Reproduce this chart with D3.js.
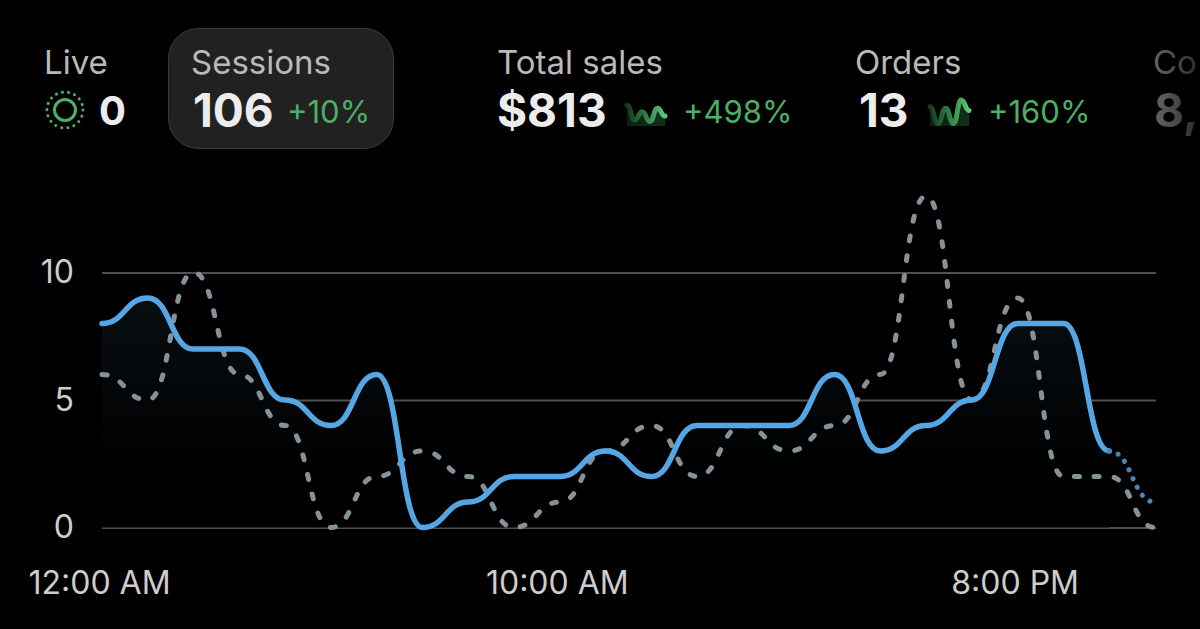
<!DOCTYPE html>
<html>
<head>
<meta charset="utf-8">
<script src="https://cdn.jsdelivr.net/npm/d3@7"></script>
<style>
	html, body { margin: 0; background: #000; overflow: hidden; }
	text { font-family: Inter, "Noto Sans", sans-serif; }
</style>
</head>
<body>
<div id="chart"></div>
<script>
const hours = d3.range(24);
const currentSessions = [8, 9, 7, 7, 5, 4, 6, 0, 1, 2, 2, 3, 2, 4, 4, 4, 6, 3, 4, 5, 8, 8, 3, 1];
const previousSessions = [6, 5, 10, 6, 4, 0, 2, 3, 2, 0, 1, 3, 4, 2, 4, 3, 4, 6, 13, 5, 9, 2, 2, 0];
const yTicks = [0, 5, 10];
const xTicks = [0, 10, 20];
const xTickLabels = ["12:00 AM", "10:00 AM", "8:00 PM"];
const salesSpark = [8, 2.3, 5.5, 1.7, 6.8, 3.8];
const ordersSpark = [7.4, 1, 6.8, 1, 10, 6];

let canvasWidth = 1200;
let canvasHeight = 629;

let svg = d3.select("#chart").append("svg")
	.attr("width", canvasWidth)
	.attr("height", canvasHeight)
	.style("display", "block");

let defs = svg.append("defs");

let areaGrad = defs.append("linearGradient").attr("id", "area-grad")
	.attr("gradientUnits", "userSpaceOnUse")
	.attr("x1", 0).attr("x2", 0).attr("y1", 300).attr("y2", 470);
areaGrad.append("stop").attr("offset", 0).attr("stop-color", "#080e11");
areaGrad.append("stop").attr("offset", 1).attr("stop-color", "#000");

let sparkArea = defs.append("linearGradient").attr("id", "spark-area")
	.attr("x1", 0).attr("x2", 1).attr("y1", 0).attr("y2", 0);
sparkArea.append("stop").attr("offset", 0).attr("stop-color", "#0a1f10");
sparkArea.append("stop").attr("offset", 1).attr("stop-color", "#11301a");

let sparkLine = defs.append("linearGradient").attr("id", "spark-line")
	.attr("x1", 0).attr("x2", 1).attr("y1", 0).attr("y2", 0);
sparkLine.append("stop").attr("offset", 0).attr("stop-color", "#143a1f");
sparkLine.append("stop").attr("offset", 0.5).attr("stop-color", "#2f8046");
sparkLine.append("stop").attr("offset", 1).attr("stop-color", "#5dc679");

let fadeGrad = defs.append("linearGradient").attr("id", "fade-grad")
	.attr("gradientUnits", "userSpaceOnUse")
	.attr("x1", 1150).attr("x2", 1200).attr("y1", 0).attr("y2", 0);
fadeGrad.append("stop").attr("offset", 0).attr("stop-color", "#6a6a6a");
fadeGrad.append("stop").attr("offset", 1).attr("stop-color", "#2a2a2a");

// chart
let x = d3.scaleLinear().domain([0, 23]).range([102, 1155]);
let y = d3.scaleLinear().domain([0, 10]).range([527.5, 272.5]);

let chart = svg.append("g").attr("id", "plot");

chart.append("g")
	.attr("class", "y axis")
	.attr("transform", "translate(102,0)")
	.call(d3.axisLeft(y).tickValues(yTicks).tickFormat(d3.format("d")).tickSize(0).tickPadding(28))
	.call((g) => g.select(".domain").remove())
	.call((g) => g.selectAll(".tick line")
		.attr("x2", 1054)
		.attr("stroke", "#505050")
		.attr("stroke-width", 2))
	.call((g) => g.selectAll(".tick text")
		.attr("fill", "#cdcdcd")
		.style("font-size", "32px"));

chart.append("g")
	.attr("class", "x axis")
	.attr("transform", "translate(-3,527)")
	.call(d3.axisBottom(x).tickValues(xTicks).tickFormat((d, i) => xTickLabels[i]).tickSize(0).tickPadding(44))
	.call((g) => g.select(".domain").remove())
	.call((g) => g.selectAll(".tick text")
		.attr("fill", "#cdcdcd")
		.style("font-size", "32px"));

let curve = d3.curveBumpX;

let area = d3.area()
	.x((d) => x(d))
	.y0(y(0))
	.y1((d) => y(currentSessions[d]))
	.curve(curve);

let line = (series) => d3.line()
	.x((d) => x(d))
	.y((d) => y(series[d]))
	.curve(curve);

chart.append("path")
	.attr("d", area(hours.slice(0, 23)))
	.attr("fill", "url(#area-grad)");

chart.append("path")
	.attr("d", line(previousSessions)(hours))
	.attr("fill", "none")
	.attr("stroke", "#84929b")
	.attr("stroke-width", 5)
	.attr("stroke-linecap", "round")
	.attr("stroke-dasharray", "5 15");

chart.append("path")
	.attr("d", line(currentSessions)(hours.slice(0, 23)))
	.attr("fill", "none")
	.attr("stroke", "#55a6e4")
	.attr("stroke-width", 5.5)
	.attr("stroke-linecap", "round");

chart.append("path")
	.attr("d", line(currentSessions)(hours.slice(22)))
	.attr("fill", "none")
	.attr("stroke", "#4a86b4")
	.attr("stroke-width", 5)
	.attr("stroke-linecap", "round")
	.attr("stroke-dasharray", "0.1 9.5");

// header
let header = svg.append("g").attr("id", "header");

header.append("rect")
	.attr("x", 168.5).attr("y", 28.5)
	.attr("width", 225).attr("height", 120)
	.attr("rx", 30)
	.attr("fill", "#212121")
	.attr("stroke", "#3b3b3b");

function label(txt, lx, color) {
	header.append("text").attr("x", lx).attr("y", 74)
		.attr("fill", color || "#b9b9b9")
		.style("font-size", "33px")
		.text(txt);
}

function value(txt, lx, color, size, by) {
	header.append("text").attr("x", lx).attr("y", by || 127)
		.attr("fill", color || "#ececec")
		.style("font-size", (size || 46) + "px")
		.style("font-weight", 700)
		.text(txt);
}

function delta(txt, lx) {
	header.append("text").attr("x", lx).attr("y", 123)
		.attr("fill", "#4fae66")
		.style("font-size", "31px")
		.text(txt);
}

function spark(data, left, right) {
	let sx = d3.scaleLinear().domain([0, data.length - 1]).range([left, right]);
	let sy = d3.scaleLinear().domain([0, 10]).range([126, 100]);
	header.append("path")
		.attr("d", d3.area().x((d, i) => sx(i)).y0(126).y1((d) => sy(d)).curve(d3.curveBumpX)(data))
		.attr("fill", "url(#spark-area)");
	header.append("path")
		.attr("d", d3.line().x((d, i) => sx(i)).y((d) => sy(d)).curve(d3.curveBumpX)(data))
		.attr("fill", "none")
		.attr("stroke", "url(#spark-line)")
		.attr("stroke-width", 5)
		.attr("stroke-linecap", "round");
}

label("Live", 44);
label("Sessions", 191);
label("Total sales", 497);
label("Orders", 855);
label("Co", 1153, "url(#fade-grad)");

value("0", 99, null, 40, 125);
value("106", 193);
value("$813", 497);
value("13", 859);
value("8,", 1154, "url(#fade-grad)");

delta("+10%", 287);
delta("+498%", 683);
delta("+160%", 988);

spark(salesSpark, 627, 665);
spark(ordersSpark, 930, 969);

// live indicator
let live = header.append("g").attr("transform", "translate(65,110)");
live.append("circle").attr("r", 10.5).attr("fill", "none").attr("stroke", "#4fae66").attr("stroke-width", 3);
live.append("circle").attr("r", 18).attr("fill", "none").attr("stroke", "#4fae66")
	.attr("stroke-width", 3).attr("stroke-linecap", "round").attr("stroke-dasharray", "0.1 6.18");
</script>
</body>
</html>
